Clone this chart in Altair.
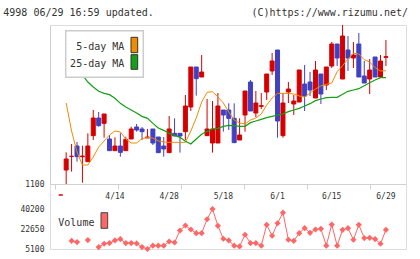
import altair as alt
import pandas as pd
import numpy as np

# Daily prices for 4998, 2020-03-31 .. 2020-06-29
dates = ["3/31", "4/1", "4/2", "4/3", "4/6", "4/7", "4/8", "4/9", "4/10", "4/13",
         "4/14", "4/15", "4/16", "4/17", "4/20", "4/21", "4/22", "4/23", "4/24", "4/27",
         "4/28", "4/30", "5/1", "5/7", "5/8", "5/11", "5/12", "5/13", "5/14", "5/15",
         "5/18", "5/19", "5/20", "5/21", "5/22", "5/25", "5/26", "5/27", "5/28", "5/29",
         "6/1", "6/2", "6/3", "6/4", "6/5", "6/8", "6/9", "6/10", "6/11", "6/12",
         "6/15", "6/16", "6/17", "6/18", "6/19", "6/22", "6/23", "6/24", "6/25", "6/26",
         "6/29"]

opens = [1067, 1142, 1183, 1214, 1182, 1167, 1245, 1298, 1282, 1235,
         1200, 1214, 1200, 1235, 1271, 1265, 1238, 1265, 1241, 1214,
         1194, 1252, 1252, 1257, 1331, 1451, 1421, 1245, 1223, 1223,
         1322, 1322, 1297, 1232, 1307, 1406, 1313, 1333, 1376, 1439,
         1502, 1245, 1376, 1340, 1346, 1400, 1406, 1358, 1430, 1397,
         1454, 1520, 1415, 1502, 1478, 1520, 1424, 1415, 1481, 1421,
         1480]
highs = [1067, 1195, 1220, 1226, 1215, 1252, 1322, 1316, 1310, 1247,
         1240, 1252, 1242, 1272, 1280, 1271, 1265, 1265, 1241, 1241,
         1304, 1297, 1252, 1367, 1451, 1451, 1487, 1355, 1349, 1373,
         1322, 1342, 1342, 1297, 1379, 1412, 1379, 1373, 1430, 1493,
         1502, 1373, 1406, 1367, 1442, 1457, 1436, 1469, 1430, 1451,
         1526, 1520, 1577, 1544, 1526, 1553, 1469, 1475, 1481, 1487,
         1532]
lows = [1067, 1100, 1137, 1167, 1104, 1167, 1232, 1272, 1239, 1200,
        1200, 1182, 1200, 1235, 1257, 1232, 1238, 1217, 1194, 1182,
        1194, 1244, 1194, 1232, 1319, 1365, 1421, 1245, 1194, 1223,
        1257, 1262, 1224, 1232, 1257, 1319, 1301, 1325, 1352, 1427,
        1239, 1239, 1343, 1307, 1346, 1319, 1364, 1358, 1340, 1382,
        1448, 1454, 1415, 1439, 1448, 1421, 1403, 1370, 1421, 1421,
        1454]
closes = [1067, 1175, 1183, 1182, 1184, 1214, 1298, 1275, 1310, 1200,
          1214, 1195, 1234, 1265, 1262, 1257, 1241, 1223, 1194, 1205,
          1265, 1244, 1244, 1334, 1451, 1416, 1436, 1265, 1265, 1334,
          1307, 1297, 1224, 1247, 1379, 1319, 1343, 1335, 1430, 1469,
          1289, 1343, 1385, 1349, 1442, 1364, 1382, 1442, 1370, 1451,
          1520, 1478, 1544, 1478, 1487, 1421, 1403, 1442, 1421, 1469,
          1482]

# 5-day and 25-day moving averages of the close
ma5 = [None, 1343, 1259, 1196, 1157, 1157, 1181, 1211, 1229, 1247,
       1259, 1256, 1235, 1223, 1223, 1236, 1240, 1238, 1229, 1226,
       1225, 1225, 1225, 1225, 1259, 1298, 1346, 1375, 1377, 1361,
       1343, 1316, 1292, 1283, 1280, 1292, 1298, 1310, 1337, 1358,
       1372, 1372, 1372, 1370, 1364, 1361, 1373, 1385, 1394, 1399,
       1403, 1437, 1455, 1475, 1492, 1490, 1473, 1466, 1449, 1439,
       1440]
ma25 = [None, 1473, 1454, 1442, 1427, 1406, 1391, 1378, 1372, 1368,
        1357, 1342, 1331, 1322, 1313, 1303, 1297, 1282, 1268, 1261,
        1252, 1246, 1240, 1228, 1220, 1235, 1249, 1258, 1265, 1267,
        1273, 1276, 1275, 1273, 1273, 1284, 1289, 1294, 1299, 1303,
        1307, 1310, 1317, 1322, 1327, 1334, 1341, 1350, 1355, 1359,
        1360, 1360, 1369, 1378, 1382, 1386, 1395, 1404, 1412, 1419,
        1419]

volume = [None, None, 12300, 11200, None, 12900, None, 6800, 9700, 10300,
          12600, 13800, 10300, 10300, 10000, 6800, 5100, 8000, 8000, 8000,
          11700, 10800, 21300, 25700, 22200, 19000, 19000, 31200, 40200, 25400,
          14100, 12600, 8000, 7400, 17600, 10300, 10300, 8000, 26300, 16700,
          27700, 37000, 13200, 12300, 19000, 23400, 19300, 22200, 22800, 8000,
          26500, 8000, 21900, 23400, 13200, 26300, 14700, 14900, 13800, 9700,
          21900]

price_ticks = [1100]
volume_ticks = [5100, 22650, 40200]
header_left = "4998 06/29 16:59 updated."
header_right = "(C)https://www.rizumu.net/"

RED = "#d40000"
BLUE = "#4040c0"
ORANGE = "#f08c00"
GREEN = "#14a014"
VOLC = "#ff6666"
AXC = "#d0d0d0"
TXT = "#333333"
FONT = "DejaVu Sans Mono"

n = len(dates)
df = pd.DataFrame({
    "i": np.arange(n), "date": dates, "open": opens, "high": highs,
    "low": lows, "close": closes, "ma5": ma5, "ma25": ma25,
})

# split the volume series wherever a day has no figure
seg, s = [], 0
for v in volume:
    if v is None:
        s += 1
    seg.append(s)
vdf = pd.DataFrame({"i": np.arange(n), "vol": volume, "seg": seg}).dropna(subset=["vol"])

W, H = 356, 224
x_dom = [-1.06, 62.78]
x_ticks = list(np.linspace(x_dom[0], x_dom[1], 12))

xs = alt.Scale(domain=x_dom, nice=False, zero=False)
x_enc = alt.X("i:Q", scale=xs, title=None,
              axis=alt.Axis(values=x_ticks, labels=False, tickSize=5, tickColor=AXC,
                            domainColor=AXC, grid=False, offset=-65))
ps = alt.Scale(domain=[1100, 1577], range=[159, 0], nice=False, zero=False)
p_axis = alt.Axis(values=price_ticks, format="d", grid=False, ticks=False,
                  domainColor=AXC, labelFont=FONT, labelFontSize=8, labelColor=TXT,
                  labelPadding=6)
dir_color = alt.Scale(domain=["up", "down"], range=[RED, BLUE])

base = alt.Chart(df).transform_calculate(
    dir="datum.close >= datum.open ? 'up' : 'down'")

wicks = base.mark_rule(strokeWidth=1).encode(
    x=x_enc,
    y=alt.Y("low:Q", scale=ps, axis=p_axis, title=None),
    y2="high:Q",
    color=alt.Color("dir:N", scale=dir_color, legend=None),
)
bodies = base.mark_bar(size=4, strokeWidth=1).encode(
    x="i:Q",
    y=alt.Y("open:Q", scale=ps),
    y2="close:Q",
    color=alt.Color("dir:N", scale=dir_color, legend=None),
    stroke=alt.Stroke("dir:N", scale=dir_color, legend=None),
)
line5 = alt.Chart(df).transform_filter("isValid(datum.ma5)").mark_line(
    color=ORANGE, strokeWidth=1).encode(x="i:Q", y=alt.Y("ma5:Q", scale=ps))
line25 = alt.Chart(df).transform_filter("isValid(datum.ma25)").mark_line(
    color=GREEN, strokeWidth=1.2).encode(x="i:Q", y=alt.Y("ma25:Q", scale=ps))

date_labels = alt.Chart(df).transform_filter(
    "datum.i > 0 && datum.i % 10 == 0").mark_text(
    font=FONT, fontSize=8, color=TXT, baseline="middle", align="center").encode(
    x="i:Q", y=alt.value(172), text="date:N")

price_panel = alt.layer(wicks, bodies, line5, line25)

vs = alt.Scale(domain=[5100, 40200], range=[224, 184], nice=False, zero=False)
v_axis = alt.Axis(values=volume_ticks, format="d", orient="left", grid=False,
                  ticks=False, domain=False, labelFont=FONT, labelFontSize=8,
                  labelColor=TXT, labelPadding=6)
vline = alt.Chart(vdf).mark_line(color=VOLC, strokeWidth=1).encode(
    x="i:Q", y=alt.Y("vol:Q", scale=vs, axis=v_axis, title=None), detail="seg:N")
vpts = alt.Chart(vdf).mark_point(shape="diamond", filled=True, size=38,
                                 color=VOLC, opacity=1).encode(
    x="i:Q", y=alt.Y("vol:Q", scale=vs))
volume_panel = alt.layer(vline, vpts)

one = pd.DataFrame({"k": [0]})

def box(x1, x2, y1, y2, fill, stroke, sw):
    return alt.Chart(one).mark_rect(fill=fill, stroke=stroke, strokeWidth=sw).encode(
        x=alt.value(x1), x2=alt.value(x2), y=alt.value(y1), y2=alt.value(y2))

def label(txt, x, y, align, size=10, baseline="middle"):
    return alt.Chart(pd.DataFrame({"t": [txt]})).mark_text(
        font=FONT, fontSize=size, color=TXT, align=align, baseline=baseline).encode(
        x=alt.value(x), y=alt.value(y), text="t:N")

legend = [
    box(15.7, 93.3, 5.7, 52.3, "white", "#cccccc", 1.5),
    label("5-day MA", 74.3, 21.5, "right"),
    label("25-day MA", 74.3, 38.5, "right"),
    box(81, 87.7, 12.3, 27.7, ORANGE, "#333333", 1),
    box(81, 87.7, 29.7, 44.3, GREEN, "#333333", 1),
    label("Volume", 8.3, 197.5, "left"),
    box(51, 57.7, 187.7, 203.3, VOLC, "#444444", 1),
]

header = [
    label(header_left, -46.7, -9.5, "left", 10, "alphabetic"),
    label(header_right, 358, -9.5, "right", 10, "alphabetic"),
]

chart = alt.layer(
    price_panel, volume_panel, date_labels, *legend, *header
).resolve_scale(y="independent").properties(
    width=W, height=H,
    autosize=alt.AutoSizeParams(type="none"),
    padding={"left": 50, "top": 25, "right": 14, "bottom": 10},
).configure_view(strokeWidth=0).configure(background="white")

chart.save("out.html", embed_options={"renderer": "svg", "actions": False})
